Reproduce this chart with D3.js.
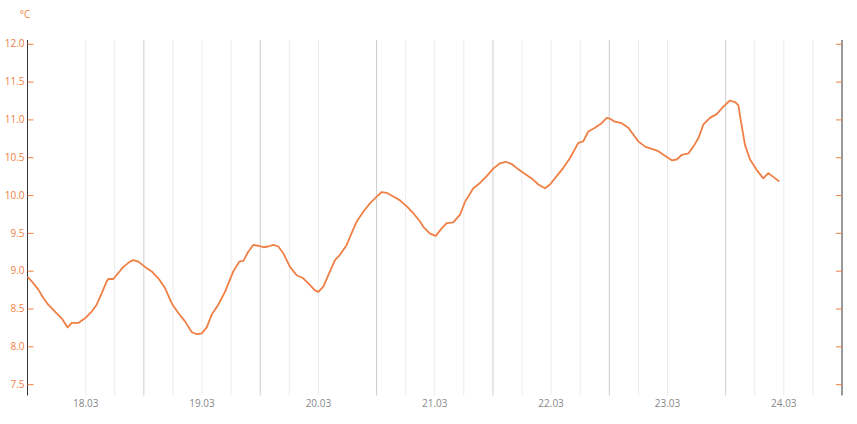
<!DOCTYPE html>
<html>
<head>
<meta charset="utf-8">
<script src="https://cdn.jsdelivr.net/npm/d3@7"></script>
<style>
    body { margin: 0; background: #fff; }
    #container { width: 857px; height: 424px; }
    text { font-family: "Open Sans", sans-serif; }
</style>
</head>
<body>
<div id="container"></div>
<script>
const container = document.querySelector("#container")

// measurement times (dd.mm HH:MM) and temperature in °C
const times = [
    "17.03 12:00","17.03 12:52","17.03 14:14","17.03 15:16","17.03 16:17","17.03 17:40","17.03 19:03","17.03 20:17",
    "17.03 21:07","17.03 22:29","17.03 23:52","18.03 01:14","18.03 02:16","18.03 03:18","18.03 04:20","18.03 04:40",
    "18.03 05:42","18.03 06:44","18.03 07:46","18.03 09:08","18.03 09:49","18.03 10:51","18.03 12:14","18.03 13:37",
    "18.03 14:59","18.03 16:22","18.03 17:44","18.03 19:06","18.03 20:29","18.03 21:52","18.03 22:54","18.03 23:56",
    "19.03 00:58","19.03 02:00","19.03 03:21","19.03 04:44","19.03 06:27","19.03 07:41","19.03 08:31","19.03 09:32",
    "19.03 10:34","19.03 11:36","19.03 12:38","19.03 13:40","19.03 14:42","19.03 15:44","19.03 16:46","19.03 18:08",
    "19.03 19:32","19.03 20:53","19.03 22:16","19.03 23:18","20.03 00:00","20.03 01:01","20.03 02:03","20.03 03:25",
    "20.03 04:27","20.03 05:50","20.03 06:52","20.03 07:54","20.03 09:16","20.03 10:38","20.03 12:02","20.03 13:04",
    "20.03 14:05","20.03 15:27","20.03 16:50","20.03 18:13","20.03 19:35","20.03 20:58","20.03 21:38","20.03 23:01",
    "21.03 00:12","21.03 01:26","21.03 02:28","21.03 03:49","21.03 05:13","21.03 06:14","21.03 07:57","21.03 09:20",
    "21.03 10:43","21.03 12:04","21.03 13:27","21.03 14:42","21.03 15:52","21.03 17:14","21.03 18:37","21.03 20:00",
    "21.03 21:22","21.03 22:44","21.03 23:46","22.03 01:09","22.03 02:31","22.03 03:54","22.03 05:37","22.03 06:38",
    "22.03 07:40","22.03 09:03","22.03 10:26","22.03 11:28","22.03 12:08","22.03 13:10","22.03 14:34","22.03 15:55",
    "22.03 16:57","22.03 17:59","22.03 19:22","22.03 20:45","22.03 22:07","22.03 23:29","23.03 00:52","23.03 01:54",
    "23.03 02:56","23.03 04:18","23.03 05:20","23.03 06:22","23.03 07:23","23.03 08:46","23.03 10:09","23.03 11:31",
    "23.03 12:53","23.03 13:56","23.03 14:37","23.03 15:19","23.03 16:00","23.03 17:02","23.03 18:25","23.03 19:46",
    "23.03 20:48","23.03 21:50","23.03 23:04"
]
const temps = [
    8.92, 8.86, 8.75, 8.64, 8.55, 8.46, 8.37, 8.25,
    8.31, 8.31, 8.37, 8.46, 8.55, 8.70, 8.86, 8.89,
    8.89, 8.97, 9.05, 9.12, 9.14, 9.12, 9.05, 8.99,
    8.90, 8.77, 8.57, 8.44, 8.33, 8.19, 8.16, 8.17,
    8.25, 8.42, 8.55, 8.72, 8.99, 9.12, 9.13, 9.25,
    9.34, 9.33, 9.31, 9.32, 9.34, 9.32, 9.23, 9.05,
    8.94, 8.90, 8.81, 8.74, 8.72, 8.79, 8.94, 9.14,
    9.21, 9.34, 9.50, 9.65, 9.78, 9.89, 9.98, 10.04,
    10.03, 9.98, 9.93, 9.85, 9.76, 9.65, 9.58, 9.49,
    9.46, 9.56, 9.63, 9.64, 9.74, 9.91, 10.09, 10.16,
    10.25, 10.35, 10.42, 10.44, 10.41, 10.34, 10.28, 10.22,
    10.14, 10.09, 10.14, 10.25, 10.36, 10.49, 10.69, 10.71,
    10.84, 10.89, 10.95, 11.02, 11.01, 10.97, 10.95, 10.89,
    10.80, 10.71, 10.64, 10.61, 10.58, 10.52, 10.46, 10.47,
    10.53, 10.55, 10.64, 10.75, 10.93, 11.02, 11.07, 11.17,
    11.25, 11.23, 11.19, 10.91, 10.66, 10.47, 10.33, 10.22,
    10.29, 10.24, 10.18
]

const timeRange = ["17.03 12:00", "24.03 12:00"]
const yTicks = [7.5, 8.0, 8.5, 9.0, 9.5, 10.0, 10.5, 11.0, 11.5, 12.0]
const dayTicks = ["18.03 00:00","19.03 00:00","20.03 00:00","21.03 00:00","22.03 00:00","23.03 00:00","24.03 00:00"]
// 6-hour grid lines that the original leaves out
const skippedGrid = ["17.03 18:00", "20.03 06:00", "23.03 06:00"]

const parse = d3.utcParse("%d.%m %H:%M")
const data = times.map((t, i) => ({date: parse(t), value: temps[i]}))

const width = 857
const height = 424
const plotLeft = 27.5, plotRight = 842, plotTop = 40, plotBottom = 395.5
const orange = "#ef7f45"

const svg = d3.create("svg")
    .attr("width", width)
    .attr("height", height)

const x = d3.scaleUtc()
    .domain(timeRange.map(parse))
    .range([plotLeft, plotRight])

const y = d3.scaleLinear()
    .domain([7.35, 12.05])
    .range([plotBottom, plotTop])

// vertical grid every 6 hours, noon lines darker
const skipped = skippedGrid.map(s => +parse(s))
const gridTimes = d3.utcHour.every(6).range(x.domain()[0], x.domain()[1])
    .filter(d => +d > +x.domain()[0] && !skipped.includes(+d))

svg.append("g")
    .selectAll("line")
    .data(gridTimes)
    .join("line")
    .attr("x1", d => x(d))
    .attr("x2", d => x(d))
    .attr("y1", plotTop)
    .attr("y2", plotBottom)
    .attr("stroke", d => d.getUTCHours() === 12 ? "#cdcdcd" : "#ebebeb")
    .attr("stroke-width", 1)

// left axis
const yAxisLeft = svg.append("g")
    .attr("transform", `translate(${plotLeft},0)`)
    .call(d3.axisLeft(y).tickValues(yTicks).tickFormat(d3.format(".1f")).tickSize(-6).tickPadding(3))

yAxisLeft.select(".domain").attr("stroke", "#333").attr("d", `M0,${plotTop}V${plotBottom}`)
yAxisLeft.selectAll(".tick line").attr("stroke", orange)
yAxisLeft.selectAll(".tick text")
    .attr("fill", orange)
    .attr("font-size", 10)
    .attr("font-family", "Open Sans")

// right axis, ticks only
const yAxisRight = svg.append("g")
    .attr("transform", `translate(${plotRight},0)`)
    .call(d3.axisRight(y).tickValues(yTicks).tickFormat("").tickSize(-6))

yAxisRight.select(".domain").attr("stroke", "#333").attr("d", `M0,${plotTop}V${plotBottom}`)
yAxisRight.selectAll(".tick line").attr("stroke", orange)

// unit label
svg.append("text")
    .attr("x", 25)
    .attr("y", 18)
    .attr("text-anchor", "middle")
    .attr("fill", orange)
    .attr("font-size", 10)
    .text("°C")

// day labels
svg.append("g")
    .selectAll("text")
    .data(dayTicks.map(parse))
    .join("text")
    .attr("x", d => x(d))
    .attr("y", 407)
    .attr("text-anchor", "middle")
    .attr("fill", "#888")
    .attr("font-size", 10)
    .text(d => d3.utcFormat("%d.%m")(d))

// temperature line
const line = d3.line()
    .x(d => x(d.date))
    .y(d => y(d.value))

svg.append("path")
    .datum(data)
    .attr("fill", "none")
    .attr("stroke", orange)
    .attr("stroke-width", 1.8)
    .attr("stroke-linejoin", "round")
    .attr("d", line)

container.appendChild(svg.node())
</script>
</body>
</html>
